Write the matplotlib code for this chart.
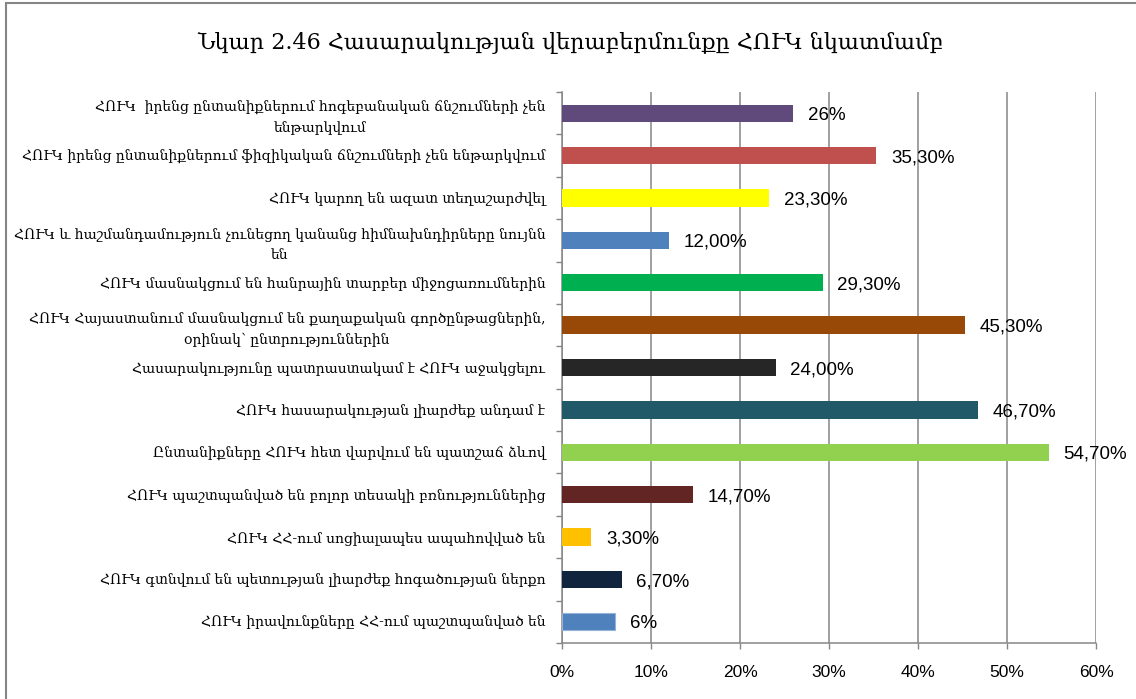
import matplotlib
matplotlib.use("Agg")
import matplotlib.pyplot as plt
from matplotlib.patches import Rectangle
import numpy as np

TITLE = "Նկար 2.46 Հասարակության վերաբերմունքը ՀՈՒԿ նկատմամբ"

# statements, listed top to bottom
categories = [
    "ՀՈՒԿ  իրենց ընտանիքներում հոգեբանական ճնշումների չեն\nենթարկվում",
    "ՀՈՒԿ իրենց ընտանիքներում ֆիզիկական ճնշումների չեն ենթարկվում",
    "ՀՈՒԿ կարող են ազատ տեղաշարժվել",
    "ՀՈՒԿ և հաշմանդամություն չունեցող կանանց հիմնախնդիրները նույնն\nեն",
    "ՀՈՒԿ մասնակցում են հանրային տարբեր միջոցառումներին",
    "ՀՈՒԿ Հայաստանում մասնակցում են քաղաքական գործընթացներին,\nօրինակ՝ ընտրություններին",
    "Հասարակությունը պատրաստակամ է ՀՈՒԿ աջակցելու",
    "ՀՈՒԿ հասարակության լիարժեք անդամ է",
    "Ընտանիքները ՀՈՒԿ հետ վարվում են պատշաճ ձևով",
    "ՀՈՒԿ պաշտպանված են բոլոր տեսակի բռնություններից",
    "ՀՈՒԿ ՀՀ-ում սոցիալապես ապահովված են",
    "ՀՈՒԿ գտնվում են պետության լիարժեք հոգածության ներքո",
    "ՀՈՒԿ իրավունքները ՀՀ-ում պաշտպանված են",
]
shares = [26.0, 35.3, 23.3, 12.0, 29.3, 45.3, 24.0, 46.7, 54.7, 14.7, 3.3, 6.7, 6.0]
share_labels = ["26%", "35,30%", "23,30%", "12,00%", "29,30%", "45,30%", "24,00%",
                "46,70%", "54,70%", "14,70%", "3,30%", "6,70%", "6%"]
bar_colors = ["#604A7B", "#C0504D", "#FFFF00", "#4F81BD", "#00B050", "#984807",
              "#262626", "#215968", "#92D050", "#632523", "#FFC000", "#10243E",
              "#4F81BD"]
x_ticks = [0, 10, 20, 30, 40, 50, 60]

GRID = "#868686"
LABEL_FONT = ["DejaVu Serif", "DejaVu Sans"]
VALUE_FONT = "Liberation Sans"

fig = plt.figure(figsize=(11.36, 6.99), dpi=100)
fig.patch.set_facecolor("white")

# outer chart border
fig.patches.append(Rectangle((6 / 1136, -0.05), 1.1, 1 - 3 / 699 + 0.05,
                             transform=fig.transFigure, fill=False,
                             edgecolor=GRID, linewidth=1.5))

fig.text(0.502, 0.938, TITLE, ha="center", va="center", fontsize=16,
         family=LABEL_FONT, color="black")

ax = fig.add_axes([562 / 1136, 1 - 643 / 699, (1096 - 562) / 1136, (643 - 92) / 699])

y = np.arange(len(categories))
bars = ax.barh(y, shares, height=0.41, color=bar_colors, zorder=3)
bars[-1].set_edgecolor("#95B3D7")
bars[-1].set_linewidth(0.8)

for yi, v, lab in zip(y, shares, share_labels):
    ax.text(v + 1.65, yi + 0.05, lab, ha="left", va="center", fontsize=13.5,
            family=VALUE_FONT, color="black", zorder=4)

ax.set_xlim(0, 60)
ax.set_ylim(len(categories) - 0.5, -0.5)
ax.set_xticks(x_ticks)
ax.set_xticklabels([f"{t}%" for t in x_ticks], fontsize=12.5, family=VALUE_FONT)
ax.set_yticks(y)
ax.set_yticklabels(categories, fontsize=10, family=LABEL_FONT)
for t in ax.get_yticklabels():
    t.set_multialignment("center")
    t.set_linespacing(1.55)

ax.set_yticks(np.arange(len(categories) + 1) - 0.5, minor=True)
ax.tick_params(axis="y", which="major", length=0, pad=12)
ax.tick_params(axis="y", which="minor", length=4, width=1, color=GRID)
ax.tick_params(axis="x", which="major", length=4, width=1, color=GRID, pad=12)

ax.grid(True, axis="x", color=GRID, linewidth=1.1, zorder=0)
for side in ("top", "right"):
    ax.spines[side].set_visible(False)
for side in ("left", "bottom"):
    ax.spines[side].set_color(GRID)
    ax.spines[side].set_linewidth(1.1)

fig.savefig("out.png", dpi=100, facecolor="white")
